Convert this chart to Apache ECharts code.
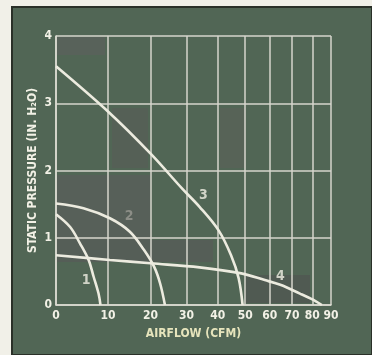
<!DOCTYPE html>
<html><head><meta charset="utf-8">
<script src="https://cdn.jsdelivr.net/npm/echarts@6/dist/echarts.min.js"></script>
<style>html,body{margin:0;padding:0;background:#f1f0e8;}#c{width:372px;height:355px;}</style>
</head><body><div id="c"></div>
<script>
// Airflow (CFM) ticks on the chart's compressed x scale
const xTicks = [0, 10, 20, 30, 40, 50, 60, 70, 80, 90];
const yTicks = [0, 1, 2, 3, 4];
// Fan curves: airflow (CFM) and static pressure (in. H2O)
const curve1X = [0, 2.5, 4.3, 6.0, 7.0, 8.0, 8.4];
const curve1Y = [1.35, 1.16, 0.92, 0.67, 0.42, 0.17, 0];
const curve2X = [0, 5.0, 10.4, 14.9, 18.3, 20.9, 22.5, 23.8];
const curve2Y = [1.51, 1.44, 1.29, 1.09, 0.82, 0.57, 0.32, 0];
const curve3X = [0, 10.1, 20.0, 28.7, 34.0, 40.3, 44.7, 47.5, 49.0];
const curve3Y = [3.55, 2.87, 2.25, 1.73, 1.46, 1.11, 0.74, 0.40, 0];
const curve4X = [0, 10.4, 20.0, 34.0, 48.5, 57.9, 64.6, 73.8, 79.5, 85.0];
const curve4Y = [0.74, 0.67, 0.62, 0.56, 0.47, 0.37, 0.30, 0.17, 0.09, 0];
const labelNames = ['1', '2', '3', '4'];
const labelX = [5.5, 14.7, 35.2, 64.6];
const labelY = [0.36, 1.32, 1.63, 0.43];

const OFF = 40;
const T = x => Math.log((x + OFF) / OFF);
const Tinv = v => OFF * Math.exp(v) - OFF;
const pts = (xs, ys) => xs.map((x, i) => [T(x), ys[i]]);

const chart = echarts.init(document.getElementById('c'));
const font = "'Liberation Sans Narrow','DejaVu Sans Condensed',sans-serif";
const lineStyle = {color: '#ecebdf', width: 2.6};
const mk = d => ({type: 'line', data: d, smooth: 0.35, showSymbol: false, lineStyle, silent: true, z: 5});
const labelColors = ['#f0efe4', '#9a9a92', '#f0efe4', '#f0efe4'];

chart.setOption({
  backgroundColor: 'transparent',
  animation: false,
  graphic: [
    {type: 'rect', shape: {x: 12, y: 7, width: 360, height: 348}, style: {fill: '#516655', stroke: '#2a3028', lineWidth: 2}, z: -10},
    {type: 'rect', shape: {x: 57, y: 37, width: 48, height: 18}, style: {fill: 'rgba(95,95,95,0.55)'}, z: -5},
    {type: 'rect', shape: {x: 112, y: 108, width: 36, height: 60}, style: {fill: 'rgba(90,90,88,0.5)'}, z: -5},
    {type: 'rect', shape: {x: 57, y: 175, width: 93, height: 65}, style: {fill: 'rgba(92,92,92,0.6)'}, z: -5},
    {type: 'rect', shape: {x: 57, y: 240, width: 156, height: 22}, style: {fill: 'rgba(88,88,88,0.6)'}, z: -5},
    {type: 'rect', shape: {x: 220, y: 108, width: 26, height: 60}, style: {fill: 'rgba(95,95,90,0.45)'}, z: -5},
    {type: 'rect', shape: {x: 245, y: 275, width: 65, height: 28}, style: {fill: 'rgba(80,80,80,0.55)'}, z: -5}
  ],
  grid: {left: 56, right: 41, top: 36, bottom: 50},
  xAxis: {
    type: 'value', min: 0, max: T(90),
    name: 'AIRFLOW (CFM)', nameLocation: 'middle', nameGap: 23,
    nameTextStyle: {color: '#e6e4bc', fontFamily: font, fontWeight: 'bold', fontSize: 12},
    axisLine: {lineStyle: {color: '#dcdcd2', width: 1.5}},
    axisTick: {show: false, customValues: xTicks.map(T)},
    axisLabel: {customValues: xTicks.map(T), formatter: v => String(Math.round(Tinv(v))),
      color: '#f2f1e6', fontFamily: font, fontWeight: 'bold', fontSize: 12, margin: 5},
    splitLine: {show: true, lineStyle: {color: '#d6d6cc', width: 1.5}}
  },
  yAxis: {
    type: 'value', min: 0, max: 4, interval: 1,
    name: 'STATIC PRESSURE (IN. H\u2082O)', nameLocation: 'middle', nameGap: 17, nameMoveOverlap: false,
    nameTextStyle: {color: '#f2f1e6', fontFamily: font, fontWeight: 'bold', fontSize: 12},
    axisLine: {lineStyle: {color: '#dcdcd2', width: 1.5}},
    axisTick: {show: false},
    axisLabel: {color: '#f2f1e6', fontFamily: font, fontWeight: 'bold', fontSize: 12, margin: 4},
    splitLine: {show: true, lineStyle: {color: '#d6d6cc', width: 1.5}}
  },
  series: [
    mk(pts(curve1X, curve1Y)),
    mk(pts(curve2X, curve2Y)),
    mk(pts(curve3X, curve3Y)),
    mk(pts(curve4X, curve4Y)),
    {type: 'scatter', symbolSize: 0, silent: true, z: 6,
      data: labelNames.map((n, i) => ({value: [T(labelX[i]), labelY[i]], name: n,
        label: {show: true, position: 'inside', formatter: n, color: labelColors[i],
          fontFamily: font, fontWeight: 'bold', fontSize: 14}}))}
  ]
});
</script></body></html>
